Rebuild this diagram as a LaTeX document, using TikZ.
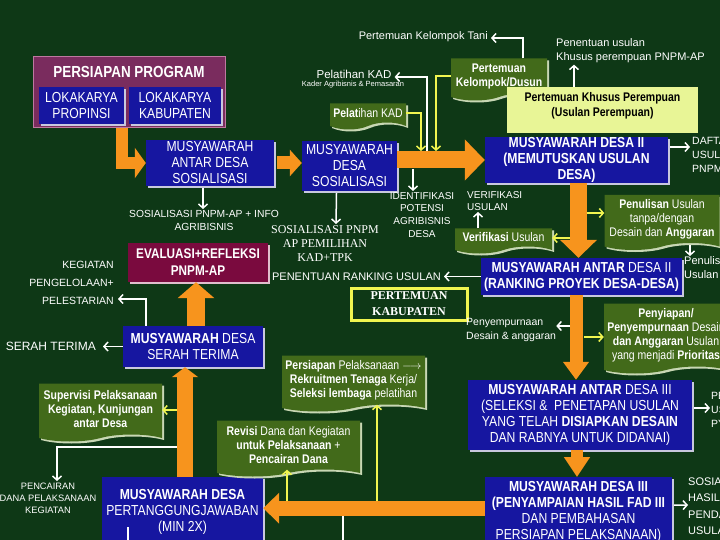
\documentclass[tikz,border=0pt]{standalone}
\usepackage{fontspec}
\setmainfont{Liberation Sans}
\newfontfamily\narrowfont[FakeStretch=0.84]{Liberation Sans}
\newfontfamily\timesfont{Liberation Serif}
\usetikzlibrary{arrows.meta,shapes.symbols,shadows,calc}

\definecolor{bggreen}{RGB}{14,56,22}
\definecolor{boxblue}{RGB}{22,22,160}
\definecolor{blueedge}{RGB}{200,200,222}
\definecolor{progpurple}{RGB}{122,44,94}
\definecolor{progedge}{RGB}{190,120,160}
\definecolor{evalmaroon}{RGB}{122,10,62}
\definecolor{evaledge}{RGB}{225,190,205}
\definecolor{docgreen}{RGB}{66,106,26}
\definecolor{docedge}{RGB}{200,215,180}
\definecolor{palegreen}{RGB}{232,245,150}
\definecolor{arroworange}{RGB}{247,148,29}
\definecolor{lineyellow}{RGB}{240,245,80}

\tikzset{
  bluebox/.style={fill=boxblue, text=white, align=center, inner xsep=2pt, inner ysep=0pt,
    font=\narrowfont\fontsize{14.5}{16}\selectfont,
    drop shadow={shadow xshift=2pt, shadow yshift=-2pt, fill=blueedge, opacity=1}},
  docbox/.style={shape=tape, tape bend top=none, tape bend height=7pt, fill=docgreen,
    text=white, align=center, inner sep=1pt,
    font=\narrowfont\fontsize{12.5}{14}\selectfont,
    drop shadow={shadow xshift=2pt, shadow yshift=-2pt, fill=docedge, opacity=1}},
  note/.style={text=white, inner sep=0pt, font=\fontsize{10.5}{13.5}\selectfont},
  bigarrow/.style n args={3}{draw=arroworange, line width=#1,
    -{Triangle[width=#2, length=#3]}},
  whitearrow/.style={draw=white, line width=1.5pt, -{Straight Barb[length=4pt, width=9pt]}},
  yellowarrow/.style={draw=lineyellow, line width=1.5pt, -{Straight Barb[length=4pt, width=9pt]}},
}

\begin{document}
\begin{tikzpicture}[x=1pt, y=-1pt]
    \useasboundingbox (0,0) rectangle (720,540);
    \clip (0,0) rectangle (720,540);
    \fill[bggreen] (0,0) rectangle (720,540);

    % persiapan program
    \node[fill=progpurple, draw=progedge, line width=1pt, minimum width=192pt,
        minimum height=71pt] (persiapan) at (129,92.5) {};
    \node[text=white, inner sep=0pt, font=\narrowfont\bfseries\fontsize{16}{18}\selectfont]
        (persiapanjudul) at (129,72) {PERSIAPAN PROGRAM};
    \node[bluebox, minimum width=85pt, minimum height=37pt] (lokprop) at (81.5,105.5)
        {LOKAKARYA\\PROPINSI};
    \node[bluebox, minimum width=92pt, minimum height=37pt] (lokkab) at (175,105.5)
        {LOKAKARYA\\KABUPATEN};

    % kotak musyawarah
    \node[bluebox, minimum width=128pt, minimum height=46pt] (madsos) at (210,163)
        {MUSYAWARAH\\ANTAR DESA\\SOSIALISASI};
    \node[bluebox, minimum width=95pt, minimum height=50pt] (mdsos) at (349.5,166)
        {MUSYAWARAH\\DESA\\SOSIALISASI};
    \node[bluebox, font=\narrowfont\bfseries\fontsize{14.5}{16}\selectfont,
        minimum width=183pt, minimum height=46pt] (mddua) at (576.5,160)
        {MUSYAWARAH DESA II\\(MEMUTUSKAN USULAN\\DESA)};
    \node[bluebox, minimum width=201pt, minimum height=37pt] (madua) at (581.5,276.5)
        {\textbf{MUSYAWARAH ANTAR} DESA II\\\textbf{(RANKING PROYEK DESA-DESA)}};
    \node[bluebox, minimum width=224pt, minimum height=70pt] (matiga) at (580,415)
        {\textbf{MUSYAWARAH ANTAR} DESA III\\(SELEKSI \&\ \ PENETAPAN USULAN\\YANG TELAH \textbf{DISIAPKAN DESAIN}\\DAN RABNYA UNTUK DIDANAI)};
    \node[bluebox, minimum width=187pt, minimum height=70pt, anchor=north] (mdtiga) at (578.5,477)
        {\textbf{MUSYAWARAH DESA III}\\\textbf{(PENYAMPAIAN HASIL FAD III}\\DAN PEMBAHASAN\\PERSIAPAN PELAKSANAAN)};
    \node[bluebox, minimum width=140pt, minimum height=41pt] (serah) at (193,346.5)
        {\textbf{MUSYAWARAH} DESA\\SERAH TERIMA};
    \node[bluebox, minimum width=161pt, minimum height=70pt, anchor=north] (tanggung) at (182.5,477)
        {\textbf{MUSYAWARAH DESA}\\PERTANGGUNGJAWABAN\\(MIN 2X)};
    \node[fill=evalmaroon, text=white, align=center, inner sep=0pt,
        font=\narrowfont\bfseries\fontsize{14}{17}\selectfont,
        minimum width=140pt, minimum height=39pt,
        drop shadow={shadow xshift=2pt, shadow yshift=-2pt, fill=evaledge, opacity=1}]
        (evaluasi) at (198,262.5) {EVALUASI+REFLEKSI\\PNPM-AP};
    \node[draw=lineyellow, line width=3pt, text=white, align=center,
        font=\timesfont\bfseries\fontsize{12}{16}\selectfont,
        minimum width=116pt, minimum height=32pt] (kabupaten) at (409,304)
        {PERTEMUAN\\KABUPATEN};

    % kotak hijau
    \node[docbox, minimum width=96pt, minimum height=42pt] (kelompok) at (499,76)
        {\textbf{Pertemuan}\\\textbf{Kelompok/Dusun}};
    \node[fill=palegreen, text=black, align=center, inner sep=0pt,
        font=\narrowfont\bfseries\fontsize{12.5}{15}\selectfont,
        minimum width=191pt, minimum height=46pt] (khusus) at (602.5,110)
        {Pertemuan Khusus Perempuan\\(Usulan Perempuan)\\[-3pt]\mbox{}};
    \node[docbox, minimum width=76pt, minimum height=26pt] (latihkad) at (368,113)
        {\textbf{Pelat}ihan KAD};
    \node[docbox, minimum width=97pt, minimum height=25pt] (verif) at (503.5,237.5)
        {\textbf{Verifikasi} Usulan};
    \node[docbox, minimum width=115pt, minimum height=55pt] (penulisan) at (662,219)
        {\textbf{Penulisan} Usulan\\tanpa/dengan\\Desain dan \textbf{Anggaran}};
    \node[docbox, minimum width=124pt, minimum height=70pt] (penyiapan) at (666,335)
        {\textbf{Penyiapan/}\\\textbf{Penyempurnaan} Desain\\\textbf{dan Anggaran} Usulan\\yang menjadi \textbf{Prioritas}};
    \node[docbox, minimum width=143pt, minimum height=56pt] (siapkerja) at (353.5,380)
        {\textbf{Persiapan} Pelaksanaan $\longrightarrow$\\\textbf{Rekruitmen Tenaga} Kerja/\\\textbf{Seleksi lembaga} pelatihan};
    \node[docbox, minimum width=143pt, minimum height=56pt] (revisi) at (288.5,445)
        {\textbf{Revisi} Dana dan Kegiatan\\\textbf{untuk Pelaksanaan} +\\\textbf{Pencairan Dana}};
    \node[docbox, minimum width=123pt, minimum height=58pt] (supervisi) at (100.5,409)
        {\textbf{Supervisi Pelaksanaan}\\\textbf{Kegiatan, Kunjungan}\\\textbf{antar Desa}};

    % keterangan
    \node[note, font=\fontsize{11}{13}\selectfont, anchor=east] (kelompoktani) at (488,37)
        {Pertemuan Kelompok Tani};
    \node[note, font=\fontsize{11}{14}\selectfont, align=left, anchor=north west]
        (usulankhusus) at (556,38) {Penentuan usulan\\Khusus perempuan PNPM-AP};
    \node[note, font=\fontsize{11.5}{13}\selectfont] (latihkadlbl) at (354,74) {Pelatihan KAD};
    \node[note, font=\fontsize{7.5}{9}\selectfont] (kaderlbl) at (353,85)
        {Kader Agribisnis \& Pemasaran};
    \node[note, font=\fontsize{10.5}{14}\selectfont, align=left, anchor=west] (daftar) at (692,155)
        {DAFTAR\\USULAN\\PNPM};
    \node[note, font=\fontsize{10.3}{13}\selectfont, align=center, anchor=north] (infoagri) at (204,210)
        {SOSIALISASI PNPM-AP + INFO\\AGRIBISNIS};
    \node[note, font=\timesfont\fontsize{12}{14}\selectfont, align=center, anchor=north]
        (pemilihan) at (325,225) {SOSIALISASI PNPM\\AP PEMILIHAN\\KAD+TPK};
    \node[note, font=\fontsize{10}{12.7}\selectfont, align=center, anchor=north] (potensi) at (422,192)
        {IDENTIFIKASI\\POTENSI\\AGRIBISNIS\\DESA};
    \node[note, font=\fontsize{10}{12}\selectfont, align=left, anchor=south west] (verifikasi) at (467,211)
        {VERIFIKASI\\USULAN};
    \node[note, font=\fontsize{11}{14}\selectfont, align=left, anchor=north west] (penulisanlbl) at (684,256)
        {Penulisan\\Usulan P};
    \node[note, font=\fontsize{11}{13}\selectfont, anchor=east] (ranking) at (441,276.5)
        {PENENTUAN RANKING USULAN};
    \node[note, font=\fontsize{10.5}{13.5}\selectfont, align=left, anchor=west] (sempurna) at (466,330)
        {Penyempurnaan\\Desain \& anggaran};
    \node[note, font=\fontsize{10.5}{14}\selectfont, align=left, anchor=west] (tetap) at (711,410)
        {PE\\US\\PY};
    \node[note, font=\fontsize{11}{16.5}\selectfont, align=left, anchor=west] (sosialisasihasil) at (688,506)
        {SOSIALISASI\\HASIL\\PENDANAAN\\USULAN};
    \node[note, font=\fontsize{10.5}{18}\selectfont, align=right, anchor=east] (lestari) at (114,283)
        {KEGIATAN\\PENGELOLAAN+\\PELESTARIAN};
    \node[note, font=\fontsize{12}{14}\selectfont, anchor=east] (serahlbl) at (96,346.5) {SERAH TERIMA};
    \node[note, font=\fontsize{9.3}{12}\selectfont, align=center, anchor=north] (cair) at (48,483)
        {PENCAIRAN\\DANA PELAKSANAAN\\KEGIATAN};

    % titik cabang pada panah oranye
    \coordinate (cabkadmasuk) at (421,151);
    \coordinate (cabdusunmasuk) at (436,151);
    \coordinate (cabkadkeluar) at (427,151);
    \coordinate (cabpotensi) at (413,169);
    \coordinate (cabverif) at (570,238);
    \coordinate (cabpenulisan) at (587,213);
    \coordinate (cabsempurna) at (570,326);
    \coordinate (cabpenyiapan) at (584,337);
    \coordinate (cabsupervisi) at (177,410);
    \coordinate (cabcair) at (177,447);
    \coordinate (cabrevisi) at (287,501);
    \coordinate (cabkerja) at (377,501);

    % panah oranye
    \draw[bigarrow={12pt}{30pt}{11pt}] ($(persiapan.south)+(-7,0)$) |- (madsos.west);
    \draw[bigarrow={13pt}{26pt}{12pt}] ($(madsos.east)+(3,0)$) -- (mdsos.west |- madsos.east);
    \draw[bigarrow={17pt}{40pt}{20pt}] (mdsos.east |- mddua.west) -- (mddua.west);
    \draw[bigarrow={17pt}{36pt}{18pt}] ($(mddua.south)+(2,0)$) -- ($(madua.north)+(-3,0)$);
    \draw[bigarrow={13pt}{25pt}{18pt}] ($(madua.south)+(-5.5,0)$) -- ($(matiga.north)+(-4,0)$);
    \draw[bigarrow={12pt}{25pt}{20pt}] ($(matiga.south)+(-3,0)$) -- ($(mdtiga.north)+(-1.5,0)$);
    \draw[bigarrow={15pt}{30pt}{16pt}] ($(mdtiga.west)+(0,-4)$) -- ($(tanggung.east)+(0,-4)$);
    \draw[bigarrow={16pt}{26pt}{10pt}] ($(tanggung.north)+(2.5,0)$) -- ($(serah.south)+(-8,0)$);
    \draw[bigarrow={18pt}{36pt}{16pt}] ($(serah.north)+(3,0)$) -- ($(evaluasi.south)+(-2,0)$);

    % panah kuning
    \draw[yellowarrow] (latihkad.east) -| (cabkadmasuk);
    \draw[yellowarrow] (kelompok.west) -| (cabdusunmasuk);
    \draw[yellowarrow] (cabverif) -- (verif.east |- cabverif);
    \draw[yellowarrow] (cabpenulisan) -- (penulisan.west |- cabpenulisan);
    \draw[yellowarrow] (cabpenyiapan) -- (penyiapan.west |- cabpenyiapan);
    \draw[yellowarrow] (cabsupervisi) -- (supervisi.east |- cabsupervisi);
    \draw[yellowarrow] (cabrevisi) -- (revisi.south -| cabrevisi);
    \draw[yellowarrow] (cabkerja) -- (siapkerja.south -| cabkerja);

    % panah putih
    \draw[whitearrow] (cabkadkeluar) |- ($(latihkadlbl.east)+(3,3)$);
    \draw[whitearrow] ($(kelompok.north)+(24,0)$) |- ($(kelompoktani.east)+(3,1)$);
    \draw[whitearrow] ($(khusus.north)+(-28.5,0)$) -- ($(usulankhusus.south west)+(18,2)$);
    \draw[whitearrow] ($(mddua.east)+(2,-13)$) -- ($(daftar.west)+(-2,-8)$);
    \draw[whitearrow] ($(madsos.south)+(-7,2)$) -- ($(infoagri.north)+(-1,-1)$);
    \draw[whitearrow] ($(mdsos.south)+(-13,2)$) -- ($(pemilihan.north)+(11,-1)$);
    \draw[whitearrow] (cabpotensi) -- ($(potensi.north)+(-9,-1)$);
    \draw[whitearrow] ($(verif.north)+(-25.5,0)$) -- ($(verifikasi.south west)+(11,1)$);
    \draw[whitearrow] ($(penulisan.south)+(28,2)$) -- ($(penulisanlbl.north west)+(6,0)$);
    \draw[whitearrow] (madua.west) -- ($(ranking.east)+(3,0)$);
    \draw[whitearrow] (cabsempurna) -- ($(sempurna.east)+(0,-4)$);
    \draw[whitearrow] ($(matiga.east)+(2,-7)$) -- ($(tetap.west)+(-1,-2)$);
    \draw[whitearrow] ($(mdtiga.east)+(2,-7)$) -- ($(sosialisasihasil.west)+(0,-1)$);
    \draw[whitearrow] (serah.west) -- ($(serahlbl.east)+(7,0)$);
    \draw[whitearrow] ($(serah.north)+(-47,0)$) |- ($(lestari.east)+(4,16)$);
    \draw[whitearrow] (cabcair) -| ($(cair.north)+(9,-2)$);
    \draw[white, line width=1.5pt] ($(tanggung.south west)+(26,-20)$) -- ++(0,25);
    \draw[white, line width=1.5pt] (343,516) -- ++(0,30);
\end{tikzpicture}
\end{document}
